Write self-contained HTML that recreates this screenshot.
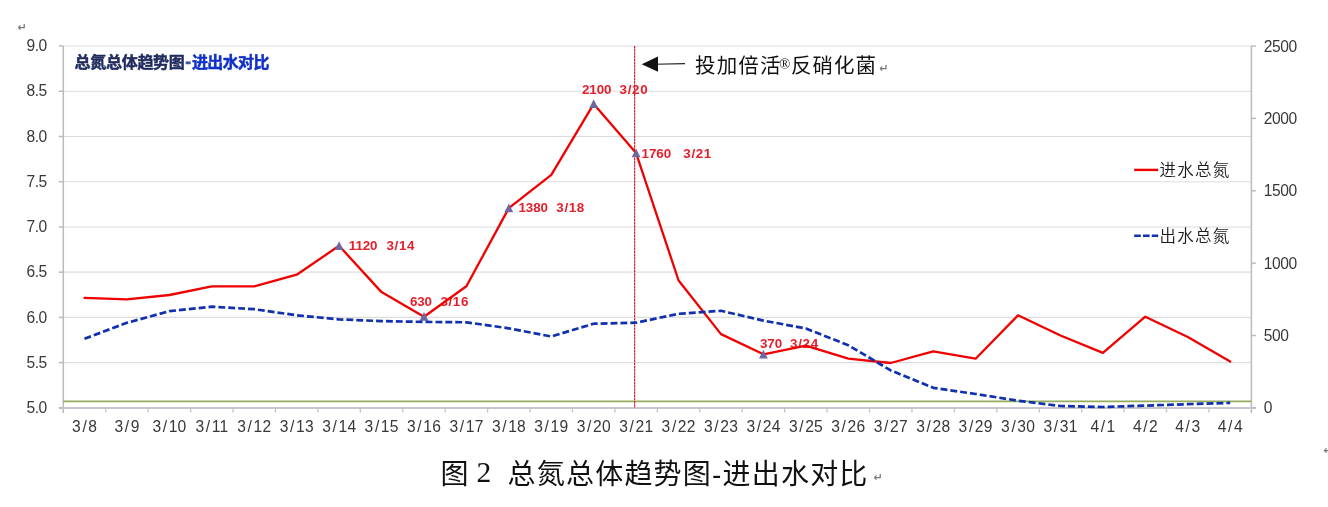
<!DOCTYPE html>
<html lang="zh"><head><meta charset="utf-8"><title>图 2 总氮总体趋势图-进出水对比</title>
<style>html,body{margin:0;padding:0;background:#fff}body{width:1328px;height:507px;overflow:hidden}svg{display:block}text{white-space:pre}
.ax{font-family:"Liberation Sans",sans-serif;font-weight:400;font-size:15.6px;fill:#383838;letter-spacing:-0.4px}
.axx{font-family:"Liberation Sans",sans-serif;font-weight:400;font-size:15.6px;fill:#383838;letter-spacing:0.3px}
.dl{font-family:"Liberation Sans",sans-serif;font-weight:700;font-size:13.4px;fill:#e3202c}
.lg{font-family:"Liberation Sans","Noto Sans CJK SC",sans-serif;font-weight:350;font-size:16.5px;fill:#1a1a1a;letter-spacing:1.2px}
.pm{font-family:"DejaVu Sans",sans-serif;fill:#7a7a7a}
</style></head><body>
<svg width="1328" height="507" viewBox="0 0 1328 507">
<rect width="1328" height="507" fill="#fff"/>
<line x1="63.3" x2="1251.4" y1="46.00" y2="46.00" stroke="#dcdcdc" stroke-width="1.15"/>
<line x1="63.3" x2="1251.4" y1="91.24" y2="91.24" stroke="#dcdcdc" stroke-width="1.15"/>
<line x1="63.3" x2="1251.4" y1="136.47" y2="136.47" stroke="#dcdcdc" stroke-width="1.15"/>
<line x1="63.3" x2="1251.4" y1="181.71" y2="181.71" stroke="#dcdcdc" stroke-width="1.15"/>
<line x1="63.3" x2="1251.4" y1="226.95" y2="226.95" stroke="#dcdcdc" stroke-width="1.15"/>
<line x1="63.3" x2="1251.4" y1="272.19" y2="272.19" stroke="#dcdcdc" stroke-width="1.15"/>
<line x1="63.3" x2="1251.4" y1="317.42" y2="317.42" stroke="#dcdcdc" stroke-width="1.15"/>
<line x1="63.3" x2="1251.4" y1="362.66" y2="362.66" stroke="#dcdcdc" stroke-width="1.15"/>
<g stroke="#bbbbbb" stroke-width="1.5" fill="none">
<line x1="63.3" x2="63.3" y1="46.0" y2="412.9"/>
<line x1="1251.4" x2="1251.4" y1="46.0" y2="412.9"/>
<line x1="58.8" x2="1255.9" y1="407.9" y2="407.9" stroke="#c9c6d0" stroke-width="2"/>
<line x1="58.8" x2="63.3" y1="46.00" y2="46.00"/>
<line x1="58.8" x2="63.3" y1="91.24" y2="91.24"/>
<line x1="58.8" x2="63.3" y1="136.47" y2="136.47"/>
<line x1="58.8" x2="63.3" y1="181.71" y2="181.71"/>
<line x1="58.8" x2="63.3" y1="226.95" y2="226.95"/>
<line x1="58.8" x2="63.3" y1="272.19" y2="272.19"/>
<line x1="58.8" x2="63.3" y1="317.42" y2="317.42"/>
<line x1="58.8" x2="63.3" y1="362.66" y2="362.66"/>
<line x1="58.8" x2="63.3" y1="407.90" y2="407.90"/>
<line x1="1251.4" x2="1255.9" y1="46.00" y2="46.00"/>
<line x1="1251.4" x2="1255.9" y1="118.38" y2="118.38"/>
<line x1="1251.4" x2="1255.9" y1="190.76" y2="190.76"/>
<line x1="1251.4" x2="1255.9" y1="263.14" y2="263.14"/>
<line x1="1251.4" x2="1255.9" y1="335.52" y2="335.52"/>
<line x1="1251.4" x2="1255.9" y1="407.90" y2="407.90"/>
<line x1="105.73" x2="105.73" y1="407.9" y2="412.5" stroke="#c2c2c2" stroke-width="1.3"/>
<line x1="148.16" x2="148.16" y1="407.9" y2="412.5" stroke="#c2c2c2" stroke-width="1.3"/>
<line x1="190.60" x2="190.60" y1="407.9" y2="412.5" stroke="#c2c2c2" stroke-width="1.3"/>
<line x1="233.03" x2="233.03" y1="407.9" y2="412.5" stroke="#c2c2c2" stroke-width="1.3"/>
<line x1="275.46" x2="275.46" y1="407.9" y2="412.5" stroke="#c2c2c2" stroke-width="1.3"/>
<line x1="317.89" x2="317.89" y1="407.9" y2="412.5" stroke="#c2c2c2" stroke-width="1.3"/>
<line x1="360.33" x2="360.33" y1="407.9" y2="412.5" stroke="#c2c2c2" stroke-width="1.3"/>
<line x1="402.76" x2="402.76" y1="407.9" y2="412.5" stroke="#c2c2c2" stroke-width="1.3"/>
<line x1="445.19" x2="445.19" y1="407.9" y2="412.5" stroke="#c2c2c2" stroke-width="1.3"/>
<line x1="487.62" x2="487.62" y1="407.9" y2="412.5" stroke="#c2c2c2" stroke-width="1.3"/>
<line x1="530.05" x2="530.05" y1="407.9" y2="412.5" stroke="#c2c2c2" stroke-width="1.3"/>
<line x1="572.49" x2="572.49" y1="407.9" y2="412.5" stroke="#c2c2c2" stroke-width="1.3"/>
<line x1="614.92" x2="614.92" y1="407.9" y2="412.5" stroke="#c2c2c2" stroke-width="1.3"/>
<line x1="657.35" x2="657.35" y1="407.9" y2="412.5" stroke="#c2c2c2" stroke-width="1.3"/>
<line x1="699.78" x2="699.78" y1="407.9" y2="412.5" stroke="#c2c2c2" stroke-width="1.3"/>
<line x1="742.21" x2="742.21" y1="407.9" y2="412.5" stroke="#c2c2c2" stroke-width="1.3"/>
<line x1="784.65" x2="784.65" y1="407.9" y2="412.5" stroke="#c2c2c2" stroke-width="1.3"/>
<line x1="827.08" x2="827.08" y1="407.9" y2="412.5" stroke="#c2c2c2" stroke-width="1.3"/>
<line x1="869.51" x2="869.51" y1="407.9" y2="412.5" stroke="#c2c2c2" stroke-width="1.3"/>
<line x1="911.94" x2="911.94" y1="407.9" y2="412.5" stroke="#c2c2c2" stroke-width="1.3"/>
<line x1="954.38" x2="954.38" y1="407.9" y2="412.5" stroke="#c2c2c2" stroke-width="1.3"/>
<line x1="996.81" x2="996.81" y1="407.9" y2="412.5" stroke="#c2c2c2" stroke-width="1.3"/>
<line x1="1039.24" x2="1039.24" y1="407.9" y2="412.5" stroke="#c2c2c2" stroke-width="1.3"/>
<line x1="1081.67" x2="1081.67" y1="407.9" y2="412.5" stroke="#c2c2c2" stroke-width="1.3"/>
<line x1="1124.10" x2="1124.10" y1="407.9" y2="412.5" stroke="#c2c2c2" stroke-width="1.3"/>
<line x1="1166.54" x2="1166.54" y1="407.9" y2="412.5" stroke="#c2c2c2" stroke-width="1.3"/>
<line x1="1208.97" x2="1208.97" y1="407.9" y2="412.5" stroke="#c2c2c2" stroke-width="1.3"/>
</g>
<text class="ax" x="46.9" y="51.1" text-anchor="end">9.0</text>
<text class="ax" x="46.9" y="96.3" text-anchor="end">8.5</text>
<text class="ax" x="46.9" y="141.6" text-anchor="end">8.0</text>
<text class="ax" x="46.9" y="186.8" text-anchor="end">7.5</text>
<text class="ax" x="46.9" y="232.0" text-anchor="end">7.0</text>
<text class="ax" x="46.9" y="277.3" text-anchor="end">6.5</text>
<text class="ax" x="46.9" y="322.5" text-anchor="end">6.0</text>
<text class="ax" x="46.9" y="367.8" text-anchor="end">5.5</text>
<text class="ax" x="46.9" y="413.0" text-anchor="end">5.0</text>
<text class="ax" x="1263.8" y="51.5">2500</text>
<text class="ax" x="1263.8" y="123.9">2000</text>
<text class="ax" x="1263.8" y="196.3">1500</text>
<text class="ax" x="1263.8" y="268.6">1000</text>
<text class="ax" x="1263.8" y="341.0">500</text>
<text class="ax" x="1263.8" y="413.4">0</text>
<text class="axx" x="84.7" y="432.0" text-anchor="middle">3<tspan dx="1.3">/</tspan><tspan dx="1.3">8</tspan></text>
<text class="axx" x="127.1" y="432.0" text-anchor="middle">3<tspan dx="1.3">/</tspan><tspan dx="1.3">9</tspan></text>
<text class="axx" x="169.5" y="432.0" text-anchor="middle">3<tspan dx="1.3">/</tspan><tspan dx="1.3">10</tspan></text>
<text class="axx" x="212.0" y="432.0" text-anchor="middle">3<tspan dx="1.3">/</tspan><tspan dx="1.3">11</tspan></text>
<text class="axx" x="254.4" y="432.0" text-anchor="middle">3<tspan dx="1.3">/</tspan><tspan dx="1.3">12</tspan></text>
<text class="axx" x="296.8" y="432.0" text-anchor="middle">3<tspan dx="1.3">/</tspan><tspan dx="1.3">13</tspan></text>
<text class="axx" x="339.3" y="432.0" text-anchor="middle">3<tspan dx="1.3">/</tspan><tspan dx="1.3">14</tspan></text>
<text class="axx" x="381.7" y="432.0" text-anchor="middle">3<tspan dx="1.3">/</tspan><tspan dx="1.3">15</tspan></text>
<text class="axx" x="424.1" y="432.0" text-anchor="middle">3<tspan dx="1.3">/</tspan><tspan dx="1.3">16</tspan></text>
<text class="axx" x="466.6" y="432.0" text-anchor="middle">3<tspan dx="1.3">/</tspan><tspan dx="1.3">17</tspan></text>
<text class="axx" x="509.0" y="432.0" text-anchor="middle">3<tspan dx="1.3">/</tspan><tspan dx="1.3">18</tspan></text>
<text class="axx" x="551.4" y="432.0" text-anchor="middle">3<tspan dx="1.3">/</tspan><tspan dx="1.3">19</tspan></text>
<text class="axx" x="593.9" y="432.0" text-anchor="middle">3<tspan dx="1.3">/</tspan><tspan dx="1.3">20</tspan></text>
<text class="axx" x="636.3" y="432.0" text-anchor="middle">3<tspan dx="1.3">/</tspan><tspan dx="1.3">21</tspan></text>
<text class="axx" x="678.7" y="432.0" text-anchor="middle">3<tspan dx="1.3">/</tspan><tspan dx="1.3">22</tspan></text>
<text class="axx" x="721.1" y="432.0" text-anchor="middle">3<tspan dx="1.3">/</tspan><tspan dx="1.3">23</tspan></text>
<text class="axx" x="763.6" y="432.0" text-anchor="middle">3<tspan dx="1.3">/</tspan><tspan dx="1.3">24</tspan></text>
<text class="axx" x="806.0" y="432.0" text-anchor="middle">3<tspan dx="1.3">/</tspan><tspan dx="1.3">25</tspan></text>
<text class="axx" x="848.4" y="432.0" text-anchor="middle">3<tspan dx="1.3">/</tspan><tspan dx="1.3">26</tspan></text>
<text class="axx" x="890.9" y="432.0" text-anchor="middle">3<tspan dx="1.3">/</tspan><tspan dx="1.3">27</tspan></text>
<text class="axx" x="933.3" y="432.0" text-anchor="middle">3<tspan dx="1.3">/</tspan><tspan dx="1.3">28</tspan></text>
<text class="axx" x="975.7" y="432.0" text-anchor="middle">3<tspan dx="1.3">/</tspan><tspan dx="1.3">29</tspan></text>
<text class="axx" x="1018.2" y="432.0" text-anchor="middle">3<tspan dx="1.3">/</tspan><tspan dx="1.3">30</tspan></text>
<text class="axx" x="1060.6" y="432.0" text-anchor="middle">3<tspan dx="1.3">/</tspan><tspan dx="1.3">31</tspan></text>
<text class="axx" x="1103.0" y="432.0" text-anchor="middle">4<tspan dx="1.3">/</tspan><tspan dx="1.3">1</tspan></text>
<text class="axx" x="1145.5" y="432.0" text-anchor="middle">4<tspan dx="1.3">/</tspan><tspan dx="1.3">2</tspan></text>
<text class="axx" x="1187.9" y="432.0" text-anchor="middle">4<tspan dx="1.3">/</tspan><tspan dx="1.3">3</tspan></text>
<text class="axx" x="1230.3" y="432.0" text-anchor="middle">4<tspan dx="1.3">/</tspan><tspan dx="1.3">4</tspan></text>
<line x1="63.3" x2="1251.4" y1="401.4" y2="401.4" stroke="#93ad5c" stroke-width="1.7"/>
<line x1="634.6" x2="634.6" y1="46.0" y2="407.9" stroke="#ffa0aa" stroke-width="1.1"/>
<line x1="634.6" x2="634.6" y1="46.0" y2="407.9" stroke="#c8182e" stroke-width="1.1" stroke-dasharray="2.2 1"/>
<text class="dl" y="250.2"><tspan x="348.8" letter-spacing="-0.1">1120</tspan><tspan x="386.5" letter-spacing="0.65">3/14</tspan></text>
<text class="dl" y="306.1"><tspan x="409.9" letter-spacing="-0.1">630</tspan><tspan x="440.4" letter-spacing="0.65">3/16</tspan></text>
<text class="dl" y="212.4"><tspan x="518.5" letter-spacing="-0.1">1380</tspan><tspan x="556.3" letter-spacing="0.65">3/18</tspan></text>
<text class="dl" y="94.4"><tspan x="582.0" letter-spacing="-0.1">2100</tspan><tspan x="619.6" letter-spacing="0.65">3/20</tspan></text>
<text class="dl" y="157.8"><tspan x="641.6" letter-spacing="-0.1">1760</tspan><tspan x="683.3" letter-spacing="0.65">3/21</tspan></text>
<text class="dl" y="347.7"><tspan x="760.0" letter-spacing="-0.1">370</tspan><tspan x="790.1" letter-spacing="0.65">3/24</tspan></text>
<polyline points="84.5,297.9 126.9,299.3 169.4,295.0 211.8,286.3 254.2,286.3 296.7,274.7 339.1,245.8 381.5,292.1 424.0,316.7 466.4,286.3 508.8,208.1 551.3,174.8 593.7,103.9 636.1,153.1 678.6,280.5 721.0,334.1 763.4,354.3 805.9,345.7 848.3,358.7 890.7,363.0 933.2,351.4 975.6,358.7 1018.0,315.3 1060.5,335.5 1102.9,352.9 1145.3,316.7 1187.8,337.0 1230.2,361.6" fill="none" stroke="#f00000" stroke-width="2.3" stroke-linejoin="round" stroke-linecap="round"/>
<polygon points="339.1,241.2 334.7,249.9 343.5,249.9" fill="#6e68a0"/>
<polygon points="424.0,312.1 419.6,320.8 428.4,320.8" fill="#6e68a0"/>
<polygon points="508.8,203.5 504.4,212.2 513.2,212.2" fill="#6e68a0"/>
<polygon points="593.7,99.3 589.3,108.0 598.1,108.0" fill="#6e68a0"/>
<polygon points="636.1,148.5 631.7,157.2 640.5,157.2" fill="#6e68a0"/>
<polygon points="763.4,349.7 759.0,358.4 767.8,358.4" fill="#6e68a0"/>
<polyline points="84.5,338.8 126.9,322.8 169.4,311.2 211.8,306.7 254.2,309.2 296.7,315.3 339.1,319.4 381.5,321.1 424.0,321.9 466.4,322.3 508.8,328.3 551.3,336.5 593.7,323.7 636.1,322.7 678.6,313.8 721.0,310.8 763.4,320.6 805.9,328.5 848.3,345.2 890.7,370.4 933.2,387.8 975.6,394.0 1018.0,400.7 1060.5,406.0 1102.9,407.0 1145.3,405.6 1187.8,404.2 1230.2,402.9" fill="none" stroke="#1030b0" stroke-width="2.7" stroke-dasharray="6.9 3.0" stroke-linejoin="round" stroke-linecap="butt"/>
<text x="74.6" y="67.9" style="font-family:'Liberation Sans','Noto Sans CJK SC',sans-serif;font-weight:700;font-size:16px;letter-spacing:-0.3px"><tspan fill="#1f2b5e" stroke="#1f2b5e" stroke-width="0.45">总氮总体趋势图</tspan><tspan x="185.2" font-size="17.5px" fill="#3d5aa8" stroke="#3d5aa8" stroke-width="0.45">-</tspan><tspan x="192.0" letter-spacing="-0.65" fill="#1030c8" stroke="#1030c8" stroke-width="0.45">进出水对比</tspan></text>
<line x1="655" x2="685" y1="64.3" y2="63.6" stroke="#222" stroke-width="1.1"/>
<polygon points="641.7,64.2 658.0,56.5 658.0,71.8" fill="#111"/>
<text y="72.6" style="font-family:'Liberation Sans','Noto Sans CJK SC',sans-serif;font-weight:400;font-size:20.5px;letter-spacing:1.1px;fill:#111"><tspan x="695.1">投加倍活</tspan><tspan x="779.3" y="68.6" font-size="14.5px" style="font-family:'Liberation Serif',serif;letter-spacing:0">®</tspan><tspan x="791.0" y="72.6" letter-spacing="1.0">反硝化菌</tspan></text>
<text class="pm" x="879.2" y="71.6" font-size="11px" font-weight="700">↵</text>
<line x1="1134.2" x2="1158.2" y1="169.9" y2="169.9" stroke="#f00000" stroke-width="2.4"/>
<line x1="1134.2" x2="1158.2" y1="235.7" y2="235.7" stroke="#1232b4" stroke-width="2.4" stroke-dasharray="6.6 2.2"/>
<text class="lg" x="1159.6" y="175.6">进水总氮</text>
<text class="lg" x="1159.6" y="241.6">出水总氮</text>
<text style="font-family:'Liberation Serif','Noto Sans CJK SC',serif;font-weight:400;font-size:28px;letter-spacing:1.2px;fill:#111"><tspan x="440.6" y="483.6">图</tspan><tspan x="476.6" y="481.7" font-size="29.5px">2</tspan><tspan x="507.6" y="483.6">总氮总体趋势图<tspan style="font-family:'Liberation Sans','Noto Sans CJK SC',sans-serif;font-weight:400">-</tspan>进出水对比</tspan></text>
<text class="pm" x="873.4" y="481.2" font-size="11px" font-weight="700">↵</text>
<text class="pm" x="17.4" y="30.6" font-size="11px" font-weight="700">↵</text>
<text class="pm" x="1323.6" y="454.4" font-size="11px" font-weight="700">↵</text>
</svg></body></html>
